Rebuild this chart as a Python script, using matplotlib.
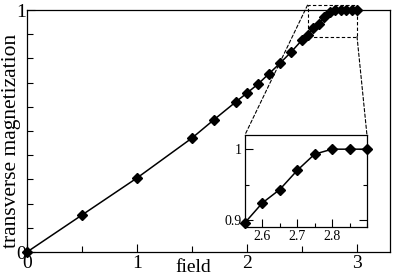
import numpy as np
import matplotlib
matplotlib.use("Agg")
import matplotlib.pyplot as plt
from matplotlib.ticker import MultipleLocator, FixedLocator
from matplotlib.patches import Rectangle, ConnectionPatch

# data
field = [0.0, 0.5, 1.0, 1.5, 1.7, 1.9, 2.0, 2.1, 2.2, 2.3, 2.4, 2.5,
         2.55, 2.6, 2.65, 2.7, 2.75, 2.8, 2.85, 2.9, 2.95, 3.0]
magn = [0.0, 0.153, 0.306, 0.471, 0.547, 0.621, 0.657, 0.694, 0.737, 0.780, 0.826, 0.876,
        0.896, 0.924, 0.943, 0.970, 0.993, 1.0, 1.0, 1.0, 1.0, 1.0]

inset_xlim = (2.55, 2.9)
inset_ylim = (0.89, 1.02)
zoom_box = (2.55, 3.0, 0.89, 1.02)   # dashed box drawn on the main plot

plt.rcParams['font.family'] = ['Liberation Serif', 'DejaVu Serif']

fig = plt.figure(figsize=(3.95, 2.75), dpi=100)
ax = fig.add_axes([0.0684, 0.0836, 0.919, 0.88])

ax.plot(field, magn, color='black', lw=1.1, marker='D', ms=5.2, clip_on=False, zorder=3)
ax.set_xlim(0, 3.3)
ax.set_ylim(0, 1)
ax.xaxis.set_major_locator(FixedLocator([0, 1, 2, 3]))
ax.xaxis.set_minor_locator(MultipleLocator(0.5))
ax.yaxis.set_major_locator(FixedLocator([0, 1]))
ax.yaxis.set_minor_locator(MultipleLocator(0.1))
ax.tick_params(which='both', direction='in', labelsize=14, pad=2, width=0.8)
ax.tick_params(which='major', length=6)
ax.tick_params(which='minor', length=4)
ax.tick_params(axis='y', pad=1)
for s in ax.spines.values():
    s.set_linewidth(0.9)
ax.set_xlabel('field', fontsize=14)
ax.xaxis.set_label_coords(0.457, -0.03)
ax.set_ylabel('transverse magnetization', fontsize=15.5)
ax.yaxis.set_label_coords(-0.016, 0.46)

# dashed zoom box
x0, x1, y0, y1 = zoom_box
ax.add_patch(Rectangle((x0, y0), x1 - x0, y1 - y0, fill=False, ls=(0, (3, 2)),
                       lw=0.8, ec='black', clip_on=False, zorder=2))

# inset
axi = fig.add_axes([0.620, 0.1745, 0.309, 0.3345])
fi = np.array(field)
mi = np.array(magn)
keep = (fi >= inset_xlim[0] - 1e-9) & (fi <= inset_xlim[1] + 1e-9)
axi.plot(fi[keep], mi[keep], color='black', lw=1.1, marker='D', ms=5.2, clip_on=False, zorder=3)
axi.set_xlim(*inset_xlim)
axi.set_ylim(*inset_ylim)
axi.xaxis.set_major_locator(FixedLocator([2.6, 2.7, 2.8]))
axi.xaxis.set_minor_locator(MultipleLocator(0.05))
axi.yaxis.set_major_locator(FixedLocator([0.9, 1.0]))
axi.yaxis.set_minor_locator(MultipleLocator(0.05))
axi.set_yticklabels(['0.9', '1'])
axi.tick_params(which='both', direction='in', labelsize=10, pad=2, width=0.8,
                right=True)
axi.tick_params(which='major', length=6)
axi.tick_params(which='minor', length=3)
for s in axi.spines.values():
    s.set_linewidth(0.9)

# connector lines from the zoom box to the inset
for xy_main, xy_in in [((x0, y1), (0, 1)), ((x1, y0), (1, 1))]:
    con = ConnectionPatch(xyA=xy_main, coordsA=ax.transData,
                          xyB=xy_in, coordsB=axi.transAxes,
                          ls=(0, (3, 2)), lw=0.8, color='black')
    fig.add_artist(con)

plt.savefig('out.png', dpi=100)
